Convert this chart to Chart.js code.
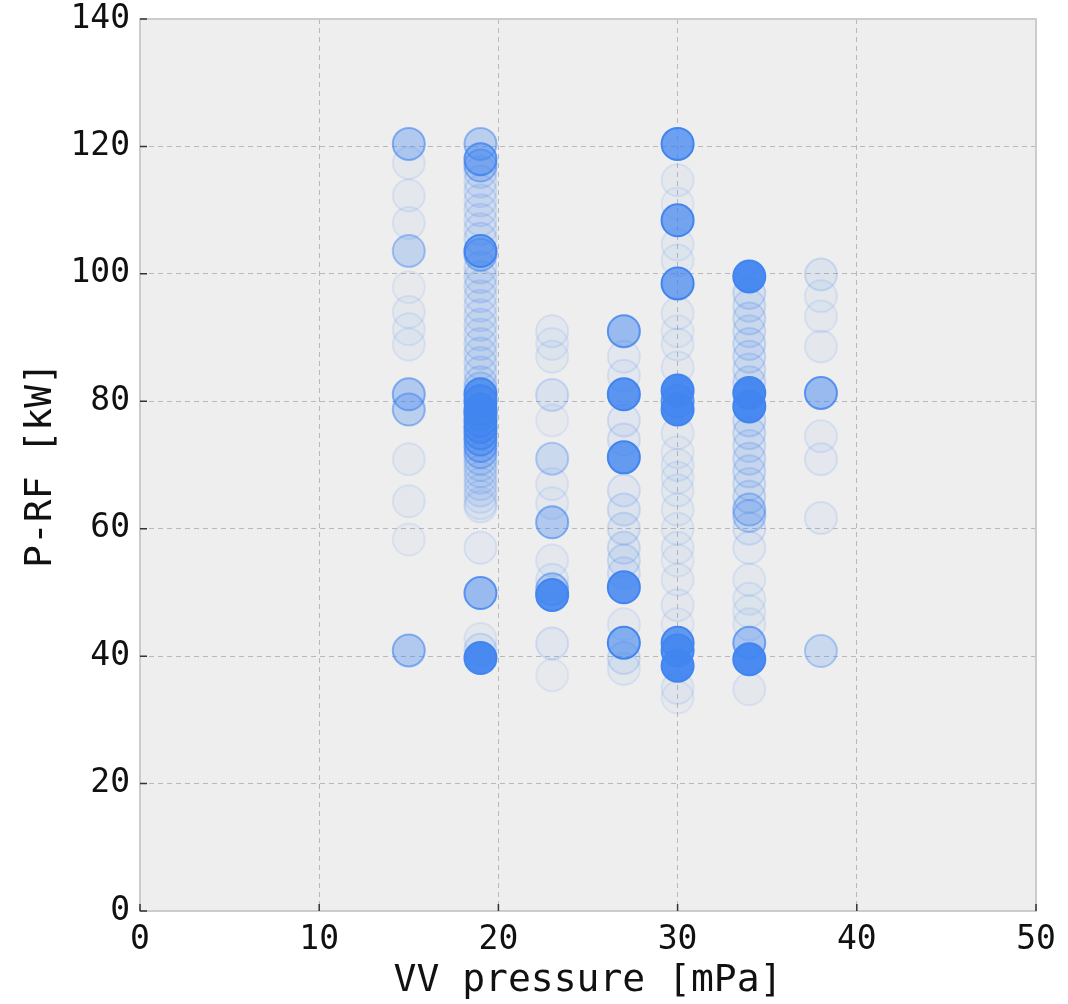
<!DOCTYPE html>
<html>
<head>
<meta charset="utf-8">
<script src="https://cdn.jsdelivr.net/npm/chart.js@4"></script>
<style>
  html, body { margin: 0; padding: 0; background: #ffffff; }
  #wrap { width: 1068px; height: 1004px; }
</style>
</head>
<body>
<div id="wrap"><canvas id="scatterChart" width="1068" height="1004"></canvas></div>
<script>
// VV pressure columns [mPa]
const pressures = [15, 19, 23, 27, 30, 34, 38];

// P-RF values [kW] per column and how strongly each one shows (0..1)
const power15 = [120.4, 117.4, 112.3, 108, 103.6, 97.9, 94, 91.3, 88.9, 81.1, 78.7, 70.9, 64.3, 58.3, 40.9];
const weight15 = [0.35, 0.05, 0.05, 0.05, 0.25, 0.04, 0.05, 0.05, 0.05, 0.35, 0.3, 0.05, 0.05, 0.04, 0.35];

const power19 = [120.4, 118, 117, 116, 114.5, 113, 111.5, 110, 108.5, 107, 105.5, 103.6, 103,
  101, 99.5, 98, 96.5, 95, 93.5, 92, 90.5, 89, 87.5, 86, 84.5, 83, 82,
  81.1, 80, 78.7, 78, 77, 76, 75, 74, 73, 72, 71, 70, 69, 68, 67, 66, 65, 64, 63.5,
  57, 49.9, 42.7, 41, 39.7];
const weight19 = [0.3, 0.5, 0.3, 0.1, 0.08, 0.08, 0.08, 0.08, 0.08, 0.08, 0.1, 0.65, 0.3,
  0.1, 0.1, 0.1, 0.08, 0.08, 0.08, 0.1, 0.08, 0.1, 0.1, 0.1, 0.1, 0.12, 0.15,
  0.8, 0.6, 0.8, 0.6, 0.6, 0.6, 0.5, 0.45, 0.35, 0.25, 0.15, 0.1, 0.1, 0.08, 0.08, 0.08, 0.06, 0.06, 0.06,
  0.06, 0.5, 0.05, 0.1, 0.95];

const power23 = [91, 89, 87, 81, 77, 71, 67, 64, 61, 55, 52, 50.5, 49.6, 42, 37];
const weight23 = [0.06, 0.05, 0.05, 0.12, 0.04, 0.2, 0.05, 0.05, 0.35, 0.05, 0.06, 0.3, 0.9, 0.08, 0.04];

const power27 = [91, 87, 84, 81.1, 77, 74, 71.2, 66, 63, 60, 57, 55, 53, 50.8, 45, 42.1, 39.7, 38];
const weight27 = [0.5, 0.06, 0.06, 0.85, 0.08, 0.08, 0.8, 0.08, 0.1, 0.1, 0.1, 0.1, 0.08, 0.85, 0.05, 0.6, 0.1, 0.05];

const power30 = [120.4, 114.7, 111, 108.4, 104.6, 102.1, 98.5, 93.8, 91, 88.9, 85.3, 81.7, 80, 78.7,
  75, 72, 70, 68, 66, 63, 60, 57, 55, 52, 48, 45, 42.1, 40.9, 38.5, 35, 33.5];
const weight30 = [0.75, 0.05, 0.04, 0.7, 0.05, 0.05, 0.7, 0.05, 0.04, 0.05, 0.05, 0.95, 0.5, 0.95,
  0.05, 0.04, 0.05, 0.05, 0.05, 0.05, 0.05, 0.05, 0.04, 0.05, 0.05, 0.04, 0.8, 0.8, 0.95, 0.05, 0.04];

const power34 = [99.6, 97, 95, 93, 91, 89, 87, 85, 83, 81.3, 79.2, 77, 75, 73, 71, 69, 67, 65,
  63, 62, 60, 57, 52, 49, 47, 45, 42.1, 39.5, 34.8];
const weight34 = [0.95, 0.12, 0.1, 0.12, 0.1, 0.12, 0.12, 0.1, 0.12, 0.95, 0.95, 0.12, 0.12, 0.1, 0.12, 0.12, 0.1, 0.12,
  0.25, 0.2, 0.08, 0.06, 0.05, 0.05, 0.05, 0.05, 0.4, 0.95, 0.05];

const power38 = [99.9, 96.5, 93.3, 88.6, 81.3, 74.5, 70.9, 61.7, 40.8];
const weight38 = [0.1, 0.05, 0.05, 0.05, 0.5, 0.05, 0.06, 0.06, 0.2];

const xTicks = [0, 10, 20, 30, 40, 50];
const yTicks = [0, 20, 40, 60, 80, 100, 120, 140];

const powerLists = [power15, power19, power23, power27, power30, power34, power38];
const weightLists = [weight15, weight19, weight23, weight27, weight30, weight34, weight38];

// one flat list of points, each with its own alpha
const points = [];
const alphas = [];
pressures.forEach((p, i) => {
    powerLists[i].forEach((v, j) => {
        points.push({ x: p, y: v });
        alphas.push(weightLists[i][j]);
    });
});

const blue = a => `rgba(65, 133, 240, ${a})`;
const fontFamily = '"DejaVu Sans Mono", monospace';

// plot background, frame and inward tick marks
const framePlugin = {
    id: 'frame',
    beforeDraw(chart) {
        const { ctx, chartArea: a } = chart;
        ctx.save();
        ctx.fillStyle = '#eeeeee';
        ctx.fillRect(a.left, a.top, a.right - a.left, a.bottom - a.top);
        ctx.restore();
    },
    afterDraw(chart) {
        const { ctx, chartArea: a, scales } = chart;
        ctx.save();
        ctx.strokeStyle = '#cccccc';
        ctx.lineWidth = 2;
        ctx.strokeRect(a.left, a.top, a.right - a.left, a.bottom - a.top);
        ctx.strokeStyle = '#333333';
        ctx.lineWidth = 1.5;
        ctx.beginPath();
        xTicks.forEach(t => {
            const px = scales.x.getPixelForValue(t);
            ctx.moveTo(px, a.bottom);
            ctx.lineTo(px, a.bottom - 7);
        });
        yTicks.forEach(t => {
            const py = scales.y.getPixelForValue(t);
            ctx.moveTo(a.left, py);
            ctx.lineTo(a.left + 7, py);
        });
        ctx.stroke();
        ctx.restore();
    }
};

const ctx = document.getElementById('scatterChart').getContext('2d');
new Chart(ctx, {
    type: 'scatter',
    data: {
        datasets: [{
            data: points,
            pointRadius: 16,
            borderWidth: 2,
            backgroundColor: c => blue(alphas[c.dataIndex]),
            borderColor: c => blue(Math.min(1, alphas[c.dataIndex] * 1.6 + 0.04))
        }]
    },
    options: {
        responsive: false,
        animation: false,
        layout: { padding: { top: 19, right: 32, left: 0, bottom: 0 } },
        plugins: { legend: { display: false }, tooltip: { enabled: false } },
        scales: {
            x: {
                type: 'linear', min: 0, max: 50, z: 1,
                afterBuildTicks: s => { s.ticks = xTicks.map(v => ({ value: v })); },
                ticks: { color: '#111', font: { family: fontFamily, size: 33 }, padding: 10, maxRotation: 0 },
                grid: { color: '#b8b8b8', lineWidth: 1, drawTicks: false },
                border: { display: false, dash: [5, 4] },
                title: { display: true, text: 'VV pressure [mPa]', color: '#111',
                    font: { family: fontFamily, size: 38 }, padding: { top: 0, bottom: 0 } },
                afterFit: s => { s.height = 93; s.paddingLeft = 0; s.paddingRight = 0; }
            },
            y: {
                type: 'linear', min: 0, max: 140, z: 1,
                afterBuildTicks: s => { s.ticks = yTicks.map(v => ({ value: v })); },
                ticks: { color: '#111', font: { family: fontFamily, size: 33 }, padding: 10 },
                grid: { color: '#b8b8b8', lineWidth: 1, drawTicks: false },
                border: { display: false, dash: [5, 4] },
                title: { display: true, text: 'P-RF [kW]', color: '#111',
                    font: { family: fontFamily, size: 38 }, padding: { top: 18, bottom: 0 } },
                afterFit: s => { s.width = 140; s.paddingTop = 0; s.paddingBottom = 0; }
            }
        }
    },
    plugins: [framePlugin]
});
</script>
</body>
</html>
